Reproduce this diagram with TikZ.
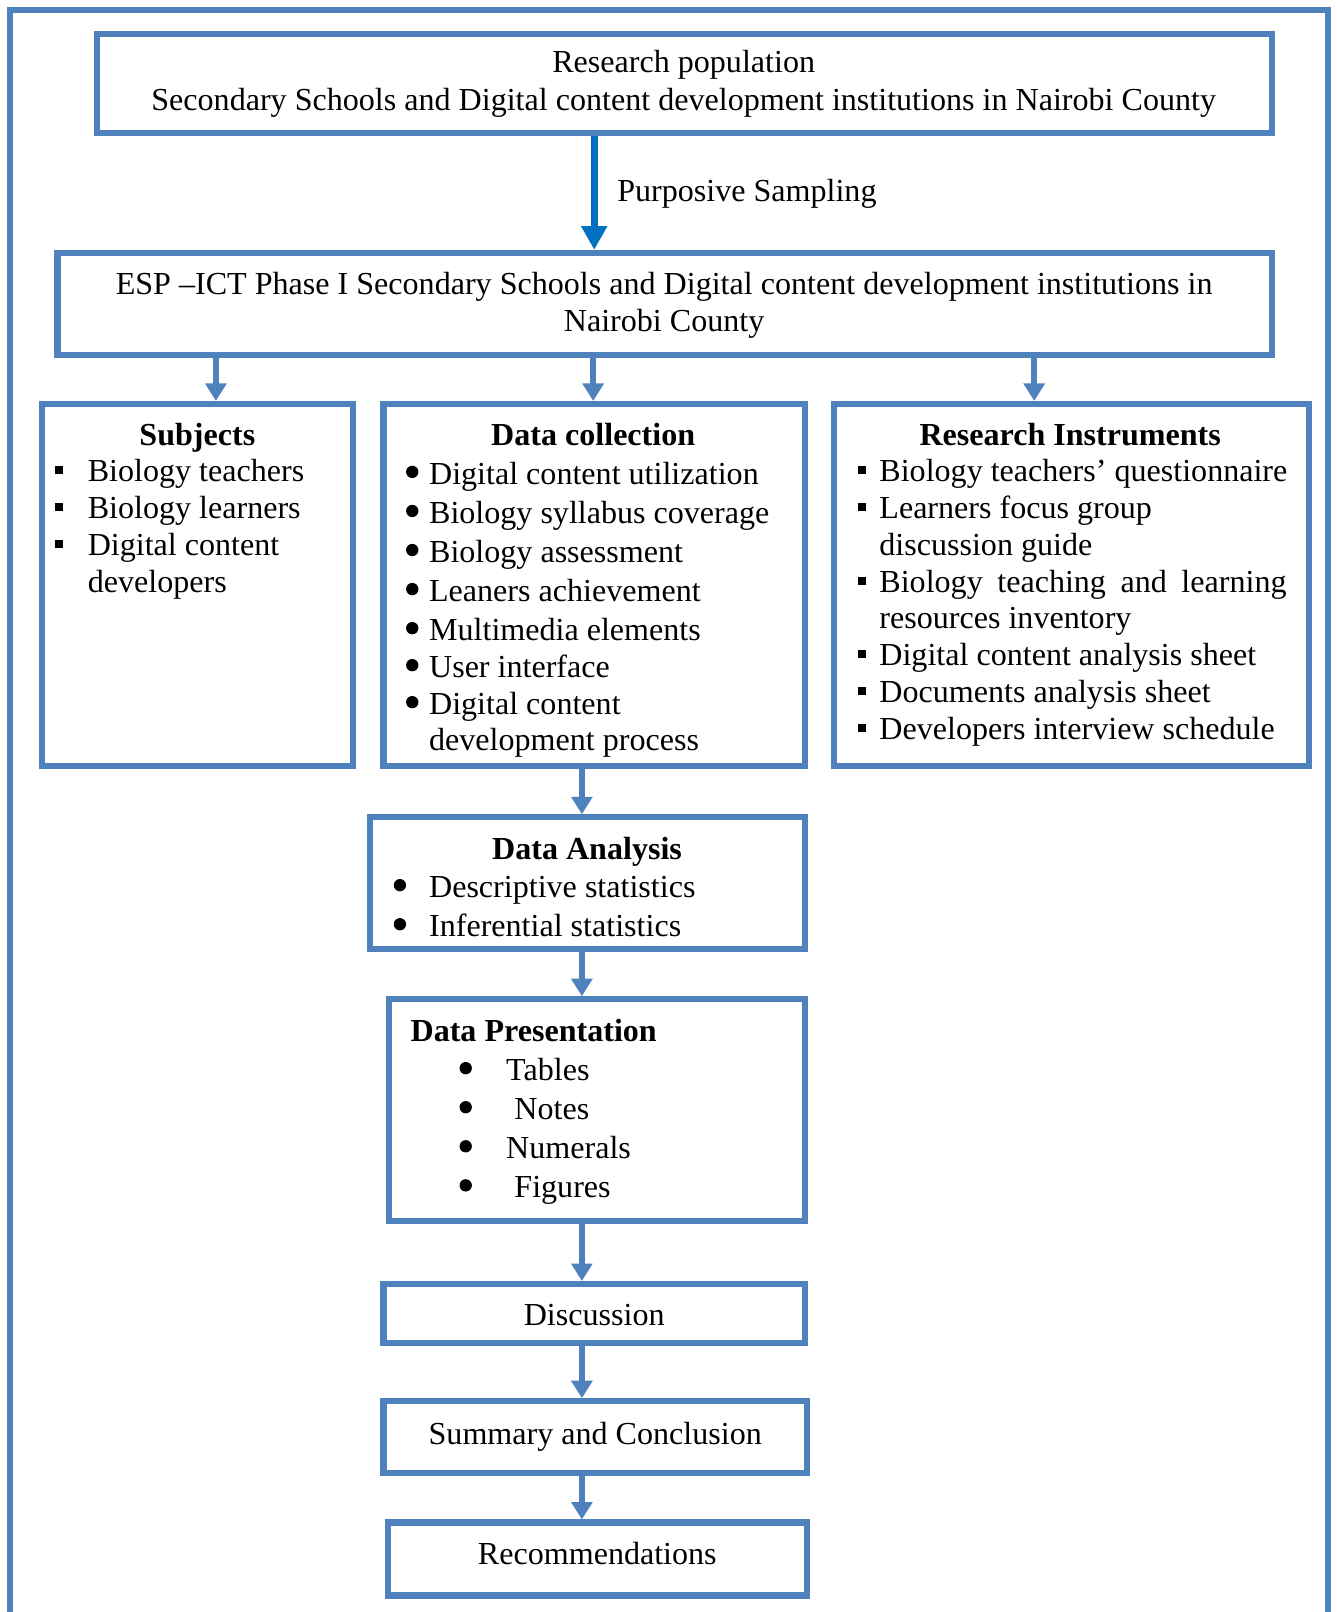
\documentclass[tikz,border=0pt]{standalone}
\usepackage{fontspec}
\setmainfont{Liberation Serif}
\usetikzlibrary{arrows.meta}
\definecolor{boxblue}{HTML}{4F81BD}
\definecolor{darkarrow}{HTML}{0070C0}
\newcommand{\bodyfont}{\fontsize{15.6}{18}\selectfont}
\begin{document}
\begin{tikzpicture}[x=0.5pt,y=-0.5pt,
  box/.style={draw=boxblue, line width=3pt, inner sep=0pt},
  tl/.style={font=\bodyfont, inner sep=0pt, anchor=base west, yshift=-1pt},
  tc/.style={font=\bodyfont, inner sep=0pt, anchor=base, yshift=-1pt},
  tb/.style={font=\bodyfont\bfseries, inner sep=0pt, anchor=base, yshift=-1pt},
  dot/.style={circle, fill=black, inner sep=0pt, minimum size=6pt},
  sqdot/.style={rectangle, fill=black, inner sep=0pt, minimum size=3.9pt},
  arr/.style={draw=boxblue, line width=3pt, -{Triangle[width=10pt,length=8.5pt]}},
  parr/.style={draw=darkarrow, line width=3.5pt, -{Triangle[width=12pt,length=11.5pt]}}]
\useasboundingbox (0,0) rectangle (1300,1568);

% outer frame, open at the bottom
\draw[draw=boxblue, line width=3pt] (10,1568) -- (10,10) -- (1292,10) -- (1292,1568);

% boxes
\node[box, minimum width=1143*0.5pt, minimum height=96*0.5pt] (pop) at (665.5,81) {};
\node[box, minimum width=1181*0.5pt, minimum height=99*0.5pt] (esp) at (646.5,295.5) {};
\node[box, minimum width=302*0.5pt, minimum height=352*0.5pt] (subj) at (192,569) {};
\node[box, minimum width=410*0.5pt, minimum height=352*0.5pt] (dc) at (578,569) {};
\node[box, minimum width=462*0.5pt, minimum height=352*0.5pt] (ri) at (1042,569) {};
\node[box, minimum width=423*0.5pt, minimum height=128*0.5pt] (da) at (571.5,859) {};
\node[box, minimum width=405*0.5pt, minimum height=216*0.5pt] (dp) at (580.5,1080) {};
\node[box, minimum width=410*0.5pt, minimum height=57*0.5pt] (disc) at (578,1277.5) {};
\node[box, minimum width=412*0.5pt, minimum height=70*0.5pt] (summ) at (579,1398) {};
\node[box, minimum width=408*0.5pt, minimum height=71*0.5pt] (rec) at (581,1516.5) {};

% research population
\node[tc] (pop1) at (665,69) {Research population};
\node[tc] (pop2) at (665,105) {Secondary Schools and Digital content development institutions in Nairobi County};

% sampling
\node[tl] (samp) at (600,194) {Purposive Sampling};

% ESP-ICT
\node[tc] (esp1) at (646,284) {ESP \textendash ICT Phase I Secondary Schools and Digital content development institutions in};
\node[tc] (esp2) at (646,320) {Nairobi County};

% subjects
\node[tb] (sjt) at (192,431) {Subjects};
\foreach \yy/\nm in {466/1,502/2,538/3}
  \node[sqdot] (sjb\nm) at (57,\yy-9) {};
\node[tl] (sj1) at (85,466) {Biology teachers};
\node[tl] (sj2) at (85,502) {Biology learners};
\node[tl] (sj3) at (85,538) {Digital content};
\node[tl] (sj4) at (85,574) {developers};

% data collection
\node[tb] (dct) at (577,431) {Data collection};
\foreach \yy/\nm in {469/1,507/2,545/3,583/4,621/5,657/6,693/7}
  \node[dot] (dcb\nm) at (401,\yy-10) {};
\node[tl] (dc1) at (417,469) {Digital content utilization};
\node[tl] (dc2) at (417,507) {Biology syllabus coverage};
\node[tl] (dc3) at (417,545) {Biology assessment};
\node[tl] (dc4) at (417,583) {Leaners achievement};
\node[tl] (dc5) at (417,621) {Multimedia elements};
\node[tl] (dc6) at (417,657) {User interface};
\node[tl] (dc7) at (417,693) {Digital content};
\node[tl] (dc8) at (417,728) {development process};

% research instruments
\node[tb] (rit) at (1041,431) {Research Instruments};
\foreach \yy/\nm in {466/1,502/2,574/3,645/4,681/5,717/6}
  \node[sqdot] (rib\nm) at (838,\yy-9) {};
\node[tl] (ri1) at (855,466) {Biology teachers\textquoteright{} questionnaire};
\node[tl] (ri2) at (855,502) {Learners focus group};
\node[tl] (ri3) at (855,538) {discussion guide};
\node[tl] (ri4) at (855,574) {\makebox[198pt][s]{Biology teaching and learning}};
\node[tl] (ri5) at (855,609) {resources inventory};
\node[tl] (ri6) at (855,645) {Digital content analysis sheet};
\node[tl] (ri7) at (855,681) {Documents analysis sheet};
\node[tl] (ri8) at (855,717) {Developers interview schedule};

% data analysis
\node[tb] (dat) at (571,834) {Data Analysis};
\node[dot] (dab1) at (389,871-10) {};
\node[dot] (dab2) at (389,909-10) {};
\node[tl] (da1) at (417,871) {Descriptive statistics};
\node[tl] (da2) at (417,909) {Inferential statistics};

% data presentation
\node[tb, anchor=base west] (dpt) at (399,1011) {Data Presentation};
\foreach \yy/\nm in {1049/1,1087/2,1125/3,1163/4}
  \node[dot] (dpb\nm) at (453,\yy-10) {};
\node[tl] (dp1) at (492,1049) {Tables};
\node[tl] (dp2) at (500,1087) {Notes};
\node[tl] (dp3) at (492,1125) {Numerals};
\node[tl] (dp4) at (500,1163) {Figures};

% final steps
\node[tc] (disct) at (578,1287) {Discussion};
\node[tc] (summt) at (579,1403) {Summary and Conclusion};
\node[tc] (rect) at (581,1520) {Recommendations};

% connectors
\draw[parr] (pop.south -| 578,0) -- (esp.north -| 578,0);
\draw[arr] (esp.south -| 210,0) -- (subj.north -| 210,0);
\draw[arr] (esp.south -| 577,0) -- (dc.north -| 577,0);
\draw[arr] (esp.south -| 1006,0) -- (ri.north -| 1006,0);
\draw[arr] (dc.south -| 566,0) -- (da.north -| 566,0);
\draw[arr] (da.south -| 566,0) -- (dp.north -| 566,0);
\draw[arr] (dp.south -| 566,0) -- (disc.north -| 566,0);
\draw[arr] (disc.south -| 566,0) -- (summ.north -| 566,0);
\draw[arr] (summ.south -| 566,0) -- (rec.north -| 566,0);
\end{tikzpicture}
\end{document}
